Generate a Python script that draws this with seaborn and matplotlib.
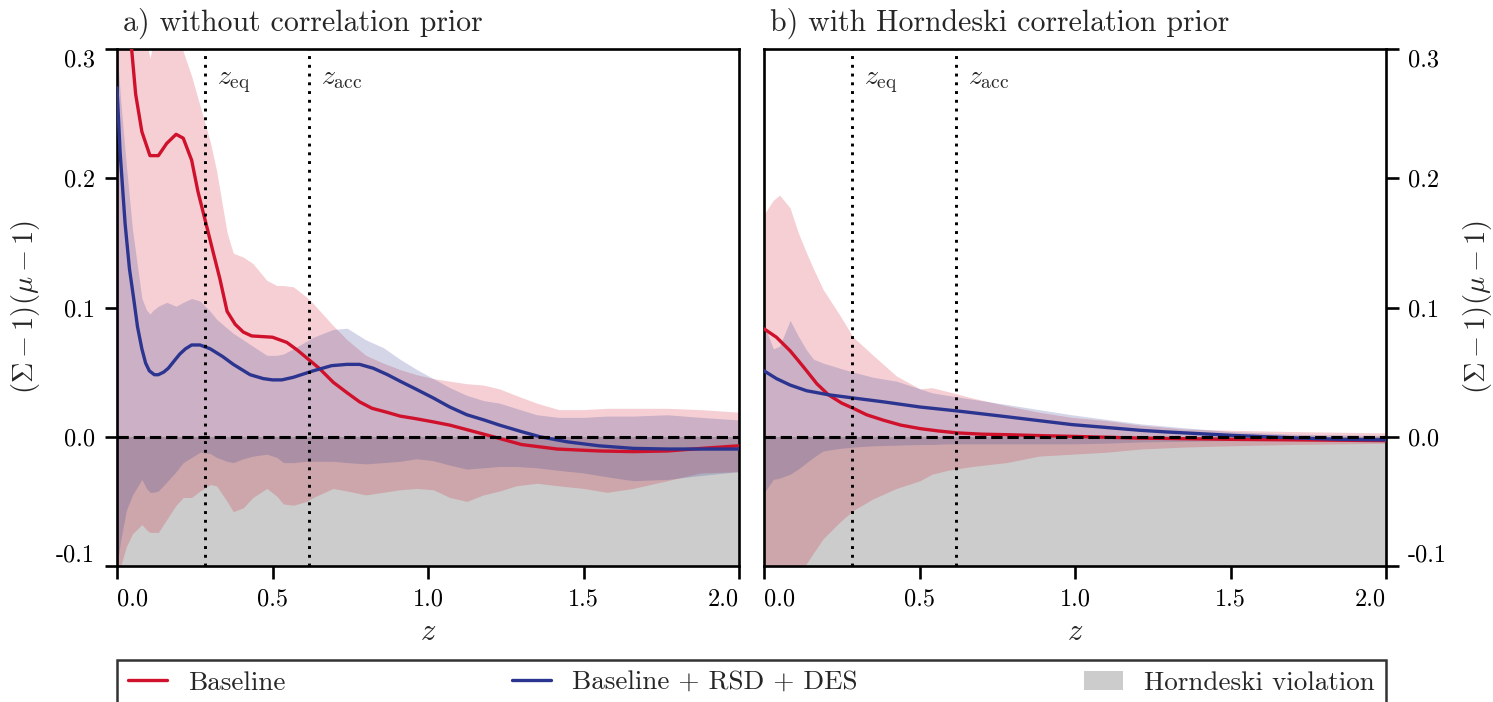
import numpy as np
import matplotlib
matplotlib.use("Agg")
import matplotlib.pyplot as plt
from matplotlib.lines import Line2D
from matplotlib.patches import Patch
import seaborn as sns

# ------------------------------------------------------------------
# Reconstructed (Sigma-1)(mu-1) as a function of redshift
# ------------------------------------------------------------------
# panel a) : without correlation prior
z_band_a = [0.0, 0.012, 0.03, 0.05, 0.08, 0.095, 0.106, 0.117, 0.133, 0.16,
            0.19, 0.213, 0.24, 0.267, 0.30, 0.32, 0.354, 0.374, 0.406, 0.437,
            0.482, 0.514, 0.535, 0.567, 0.61, 0.631, 0.695, 0.74, 0.80, 0.856,
            0.91, 0.964, 1.017, 1.07, 1.125, 1.178, 1.23, 1.283, 1.35, 1.42,
            1.5, 1.576, 1.66, 1.77, 1.876, 2.0]
base_hi_a = [0.42, 0.42, 0.40, 0.37, 0.33, 0.305, 0.293, 0.305, 0.33, 0.34,
             0.33, 0.298, 0.279, 0.256, 0.228, 0.206, 0.158, 0.142, 0.139, 0.134,
             0.121, 0.117, 0.117, 0.116, 0.108, 0.103, 0.086, 0.075, 0.063, 0.057,
             0.052, 0.048, 0.045, 0.043, 0.041, 0.040, 0.037, 0.032, 0.026, 0.021,
             0.021, 0.022, 0.022, 0.022, 0.021, 0.019]
base_lo_a = [-0.12, -0.10, -0.085, -0.075, -0.068, -0.072, -0.074, -0.074, -0.074, -0.064,
             -0.053, -0.047, -0.047, -0.042, -0.037, -0.038, -0.050, -0.058, -0.055, -0.047,
             -0.040, -0.046, -0.052, -0.053, -0.050, -0.047, -0.040, -0.042, -0.045, -0.043,
             -0.041, -0.040, -0.041, -0.047, -0.050, -0.045, -0.042, -0.038, -0.036, -0.038,
             -0.040, -0.043, -0.040, -0.034, -0.028, -0.027]
full_hi_a = [0.30, 0.26, 0.21, 0.16, 0.107, 0.098, 0.095, 0.098, 0.101, 0.104,
             0.101, 0.104, 0.107, 0.105, 0.097, 0.091, 0.084, 0.080, 0.075, 0.070,
             0.063, 0.063, 0.064, 0.068, 0.074, 0.077, 0.083, 0.084, 0.075, 0.069,
             0.060, 0.052, 0.045, 0.038, 0.032, 0.028, 0.026, 0.022, 0.017, 0.015,
             0.015, 0.016, 0.016, 0.017, 0.015, 0.013]
full_lo_a = [-0.10, -0.08, -0.057, -0.045, -0.033, -0.040, -0.043, -0.043, -0.042, -0.035,
             -0.027, -0.020, -0.016, -0.012, -0.013, -0.016, -0.019, -0.020, -0.017, -0.015,
             -0.0135, -0.016, -0.020, -0.020, -0.019, -0.019, -0.019, -0.020, -0.021, -0.020,
             -0.019, -0.017, -0.0185, -0.022, -0.025, -0.024, -0.023, -0.023, -0.024, -0.026,
             -0.028, -0.031, -0.034, -0.033, -0.030, -0.027]

z_base_a = [0.0, 0.02, 0.047, 0.06, 0.08, 0.106, 0.133, 0.16, 0.19, 0.213,
            0.24, 0.26, 0.283, 0.31, 0.331, 0.354, 0.38, 0.406, 0.433, 0.50,
            0.546, 0.58, 0.615, 0.65, 0.696, 0.74, 0.78, 0.82, 0.867, 0.91,
            0.96, 1.017, 1.07, 1.125, 1.21, 1.30, 1.415, 1.55, 1.66, 1.77,
            1.88, 2.0]
base_a = [0.50, 0.40, 0.30, 0.265, 0.236, 0.2175, 0.2175, 0.227, 0.234, 0.231,
          0.214, 0.19, 0.168, 0.142, 0.122, 0.097, 0.087, 0.081, 0.078, 0.077,
          0.073, 0.067, 0.060, 0.053, 0.042, 0.034, 0.027, 0.022, 0.019, 0.016,
          0.014, 0.0115, 0.009, 0.0055, 0.0, -0.006, -0.0095, -0.011, -0.0115, -0.011,
          -0.009, -0.007]

z_full_a = [0.0, 0.01, 0.026, 0.04, 0.053, 0.066, 0.08, 0.092, 0.104, 0.12,
            0.133, 0.15, 0.165, 0.185, 0.202, 0.22, 0.24, 0.267, 0.30, 0.34,
            0.374, 0.428, 0.47, 0.50, 0.53, 0.567, 0.631, 0.69, 0.739, 0.78,
            0.824, 0.87, 0.91, 0.96, 1.017, 1.07, 1.125, 1.18, 1.23, 1.30,
            1.36, 1.45, 1.55, 1.66, 1.77, 1.88, 2.0]
full_a = [0.27, 0.22, 0.165, 0.13, 0.108, 0.085, 0.068, 0.057, 0.051, 0.048,
          0.048, 0.050, 0.053, 0.059, 0.064, 0.068, 0.071, 0.071, 0.068, 0.062,
          0.056, 0.048, 0.045, 0.044, 0.044, 0.046, 0.051, 0.055, 0.056, 0.056,
          0.053, 0.048, 0.043, 0.037, 0.030, 0.023, 0.017, 0.013, 0.009, 0.004,
          0.0, -0.004, -0.007, -0.009, -0.0095, -0.0095, -0.0095]

# panel b) : with Horndeski correlation prior
z_band_b = [0.0, 0.03, 0.05, 0.084, 0.11, 0.137, 0.159, 0.19, 0.244, 0.287,
            0.351, 0.426, 0.502, 0.54, 0.59, 0.67, 0.78, 0.884, 0.99, 1.1,
            1.21, 1.35, 1.5, 1.7, 1.85, 2.0]
base_hi_b = [0.172, 0.183, 0.187, 0.177, 0.158, 0.142, 0.130, 0.114, 0.094, 0.077,
             0.063, 0.047, 0.037, 0.038, 0.035, 0.030, 0.024, 0.019, 0.015, 0.0125,
             0.009, 0.006, 0.005, 0.004, 0.0035, 0.003]
base_lo_b = [-0.14, -0.13, -0.125, -0.115, -0.107, -0.098, -0.090, -0.079, -0.066, -0.057,
             -0.048, -0.040, -0.034, -0.029, -0.026, -0.023, -0.020, -0.015, -0.0135, -0.012,
             -0.0095, -0.008, -0.007, -0.006, -0.0055, -0.005]
full_hi_b = [0.087, 0.068, 0.070, 0.090, 0.078, 0.067, 0.060, 0.057, 0.053, 0.050,
             0.046, 0.043, 0.037, 0.034, 0.032, 0.029, 0.025, 0.021, 0.017, 0.0135,
             0.010, 0.007, 0.004, 0.002, 0.0015, 0.001]
full_lo_b = [-0.0435, -0.033, -0.032, -0.029, -0.025, -0.020, -0.016, -0.011, -0.009, -0.008,
             -0.007, -0.0065, -0.006, -0.006, -0.0055, -0.0055, -0.0055, -0.0055, -0.0055, -0.005,
             -0.004, -0.0035, -0.003, -0.003, -0.003, -0.003]

z_base_b = [0.0, 0.04, 0.084, 0.11, 0.137, 0.17, 0.207, 0.25, 0.287, 0.33,
            0.384, 0.44, 0.502, 0.56, 0.62, 0.70, 0.78, 0.90, 0.99, 1.2,
            1.5, 1.75, 2.0]
base_b = [0.0835, 0.077, 0.0665, 0.059, 0.051, 0.041, 0.0325, 0.026, 0.022, 0.017,
          0.0128, 0.009, 0.0063, 0.0045, 0.003, 0.002, 0.0016, 0.0008, 0.0003, -0.001,
          -0.002, -0.0025, -0.003]

z_full_b = [0.0, 0.04, 0.084, 0.137, 0.207, 0.287, 0.384, 0.502, 0.62, 0.78,
            0.99, 1.08, 1.209, 1.295, 1.51, 1.72, 1.85, 2.0]
full_b = [0.051, 0.045, 0.040, 0.0356, 0.0325, 0.030, 0.027, 0.023, 0.020, 0.0155,
          0.0094, 0.0076, 0.005, 0.0037, 0.001, -0.001, -0.002, -0.0024]

# characteristic redshifts
z_eq = 0.283
z_acc = 0.617

panel_titles = ["a) without correlation prior", "b) with Horndeski correlation prior"]
series_names = ["Baseline", "Baseline + RSD + DES", "Horndeski violation"]
xtick_vals = [0.0, 0.5, 1.0, 1.5, 2.0]
xtick_labels = ["0.0", "0.5", "1.0", "1.5", "2.0"]
ytick_vals = [-0.1, 0.0, 0.1, 0.2, 0.3]
ytick_labels = ["-0.1", "0.0", "0.1", "0.2", "0.3"]

# ------------------------------------------------------------------
# Style
# ------------------------------------------------------------------
sns.set_style("ticks")
plt.rcParams["font.family"] = ["cmr10", "DejaVu Serif"]
plt.rcParams["mathtext.fontset"] = "cm"
plt.rcParams["axes.unicode_minus"] = False

RED = "#d0112b"
BLUE = "#2b3590"
GREY = "#cccccc"
LW = 2.4
SPINE = 1.9

W, H = 1493, 702
fig = plt.figure(figsize=(W / 100, H / 100), dpi=100)
ax_a = fig.add_axes([117 / W, (H - 566) / H, 622 / W, 517 / H])
ax_b = fig.add_axes([764 / W, (H - 566) / H, 622 / W, 517 / H])

panels = [
    (ax_a, z_band_a, base_lo_a, base_hi_a, full_lo_a, full_hi_a,
     z_base_a, base_a, z_full_a, full_a),
    (ax_b, z_band_b, base_lo_b, base_hi_b, full_lo_b, full_hi_b,
     z_base_b, base_b, z_full_b, full_b),
]

for i, (ax, zb, blo, bhi, flo, fhi, zl1, l1, zl2, l2) in enumerate(panels):
    # region where (Sigma-1)(mu-1) < 0
    ax.axhspan(-1.0, 0.0, color=GREY, lw=0, zorder=0)
    ax.fill_between(zb, blo, bhi, color=RED, alpha=0.2, lw=0, zorder=1)
    ax.fill_between(zb, flo, fhi, color=BLUE, alpha=0.2, lw=0, zorder=1)
    sns.lineplot(x=zl1, y=l1, ax=ax, color=RED, linewidth=LW, zorder=3, legend=False)
    sns.lineplot(x=zl2, y=l2, ax=ax, color=BLUE, linewidth=LW, zorder=3, legend=False)

    ax.axhline(0.0, color="black", ls=(0, (3.7, 1.6)), lw=2.2, zorder=4)
    for zz in (z_eq, z_acc):
        ax.axvline(zz, color="black", ls=(0, (1, 2.0)), lw=2.1, zorder=4)
    ax.text(z_eq + 0.04, 0.273, r"$z_{\rm eq}$", fontsize=20, va="baseline")
    ax.text(z_acc + 0.04, 0.273, r"$z_{\rm acc}$", fontsize=20, va="baseline")

    ax.set_xlim(0.0, 2.0)
    ax.set_ylim(-0.1, 0.3)
    ax.set_xticks(xtick_vals)
    ax.set_xticklabels(xtick_labels)
    ax.set_yticks(ytick_vals)
    ax.set_yticklabels(ytick_labels)
    ax.tick_params(axis="both", direction="out", length=9, width=SPINE,
                   labelsize=17.5, pad=7, colors="black")
    # keep the end labels inside the panel
    xt = ax.get_xticklabels()
    xt[0].set_horizontalalignment("left")
    xt[-1].set_horizontalalignment("right")
    yt = ax.get_yticklabels()
    yt[0].set_verticalalignment("bottom")
    yt[-1].set_verticalalignment("top")

    ax.set_xlabel(r"$z$", fontsize=22, labelpad=6)
    ax.set_ylabel(r"$(\Sigma-1)(\mu-1)$", fontsize=20.5, labelpad=10)
    for s in ax.spines.values():
        s.set_visible(True)
        s.set_linewidth(SPINE)
        s.set_color("black")
    ax.text(0.01, 1.02, panel_titles[i], transform=ax.transAxes,
            fontsize=21.5, ha="left", va="bottom")

ax_b.yaxis.tick_right()
ax_b.yaxis.set_label_position("right")
ax_b.tick_params(axis="y", left=False, right=True)
for t in ax_b.get_yticklabels():
    pass
ytb = ax_b.get_yticklabels()
ytb[0].set_verticalalignment("bottom")
ytb[-1].set_verticalalignment("top")

handles = [
    Line2D([], [], color=RED, lw=LW),
    Line2D([], [], color=BLUE, lw=LW),
    Patch(facecolor=GREY, edgecolor="none"),
]
leg = fig.legend(handles, series_names, loc="upper left",
                 bbox_to_anchor=(117 / W, (H - 660) / H - 0.2, 1269 / W, 0.2),
                 mode="expand", ncol=3, borderaxespad=0.0, fontsize=19.5,
                 frameon=True, fancybox=False, framealpha=1.0,
                 edgecolor="#333333", handlelength=1.45, handletextpad=0.78)
leg.get_frame().set_linewidth(1.8)

fig.savefig("out.png", dpi=100)
